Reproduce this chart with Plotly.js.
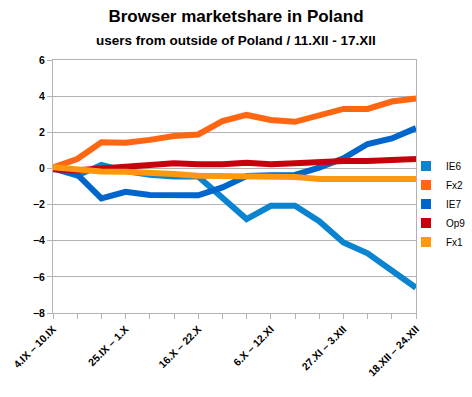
<!DOCTYPE html>
<html>
<head>
<meta charset="utf-8">
<script src="https://cdn.plot.ly/plotly-3.0.1.min.js"></script>
<style>html,body{margin:0;padding:0;background:#fff;}#chart{width:472px;height:397px;}</style>
</head>
<body>
<div id="chart"></div>
<script>
const weeks = ["4.IX – 10.IX","11.IX – 17.IX","18.IX – 24.IX","25.IX – 1.X","2.X – 8.X","9.X – 15.X","16.X – 22.X","23.X – 29.X","30.X – 5.XI","6.X – 12.XI","13.XI – 19.XI","20.XI – 26.XI","27.XI – 3.XII","4.XII – 10.XII","11.XII – 17.XII","18.XII – 24.XII"];
const shownLabels = ["4.IX – 10.IX","25.IX – 1.X","16.X – 22.X","6.X – 12.XI","27.XI – 3.XII","18.XII – 24.XII"];
const ie6 = [0, -0.4, 0.2, -0.15, -0.35, -0.45, -0.45, -1.6, -2.8, -2.07, -2.07, -2.92, -4.1, -4.7, -5.65, -6.6];
const fx2 = [0.05, 0.52, 1.45, 1.42, 1.58, 1.79, 1.88, 2.62, 2.96, 2.68, 2.58, 2.93, 3.29, 3.29, 3.7, 3.87];
const ie7 = [0, -0.33, -1.66, -1.29, -1.47, -1.46, -1.49, -1.05, -0.42, -0.38, -0.36, 0.04, 0.56, 1.35, 1.66, 2.23];
const op9 = [-0.05, -0.1, 0.0, 0.1, 0.19, 0.28, 0.23, 0.23, 0.32, 0.23, 0.28, 0.37, 0.41, 0.41, 0.5, 0.52];
const fx1 = [0.06, -0.04, -0.17, -0.18, -0.22, -0.31, -0.4, -0.42, -0.43, -0.47, -0.48, -0.58, -0.58, -0.58, -0.58, -0.58];
const names = ["IE6","Fx2","IE7","Op9","Fx1"];
const colors = ["#0a84d0","#ff6611","#0066cc","#c8000b","#ff980e"];
const series = [ie6, fx2, ie7, op9, fx1];

const traces = [];
series.forEach((s, i) => {
  traces.push({x: weeks, y: s, type: 'scatter', mode: 'lines', name: names[i],
    line: {color: colors[i], width: 6}, showlegend: false, hoverinfo: 'skip'});
});
series.forEach((s, i) => {
  traces.push({x: [null], y: [null], type: 'scatter', mode: 'markers', name: names[i],
    marker: {color: colors[i], symbol: 'square', size: 10}, showlegend: true});
});

const layout = {
  width: 472, height: 397,
  margin: {l: 53, r: 56, t: 60, b: 84, autoexpand: false},
  paper_bgcolor: '#fff', plot_bgcolor: '#fff',
  font: {family: 'Liberation Sans, Arial, sans-serif', color: '#000'},
  title: {text: '<b>Browser marketshare in Poland</b>', font: {size: 17, color: '#000'},
    x: 0.5, xanchor: 'center', xref: 'container', y: 0.975, yanchor: 'top', yref: 'container'},
  annotations: [{text: '<b>users from outside of Poland / 11.XII - 17.XII</b>', font: {size: 13.5, color: '#000'},
    xref: 'paper', yref: 'paper', x: (236 - 53) / 363, xanchor: 'center', y: (313 - 40) / 253, yanchor: 'middle', showarrow: false}],
  xaxis: {type: 'category', range: [0, 15], tickmode: 'array', tickvals: weeks,
    ticktext: weeks.map(w => shownLabels.includes(w) ? '<b>' + w + '</b>' : ''),
    tickangle: -45, tickfont: {size: 10.5}, ticks: 'outside', ticklen: 5, tickcolor: '#b3b3b3',
    showgrid: false, showline: true, linecolor: '#b3b3b3', linewidth: 1, mirror: true, zeroline: false, automargin: false},
  yaxis: {range: [-8, 6], dtick: 2, tick0: 0, tickfont: {size: 10.5},
    ticks: 'outside', ticklen: 5, tickcolor: '#b3b3b3', tickprefix: '<b>', ticksuffix: '</b>',
    showgrid: true, gridcolor: '#b3b3b3', gridwidth: 1, showline: true, linecolor: '#b3b3b3',
    zeroline: false, mirror: true, automargin: false},
  showlegend: true,
  legend: {xref: 'container', yref: 'container', x: 406/472, xanchor: 'left', y: 1 - 204/397, yanchor: 'middle', font: {size: 10},
    bgcolor: 'rgba(0,0,0,0)', borderwidth: 0, tracegroupgap: 0}
};

Plotly.newPlot('chart', traces, layout, {displayModeBar: false, staticPlot: true});
</script>
</body>
</html>
